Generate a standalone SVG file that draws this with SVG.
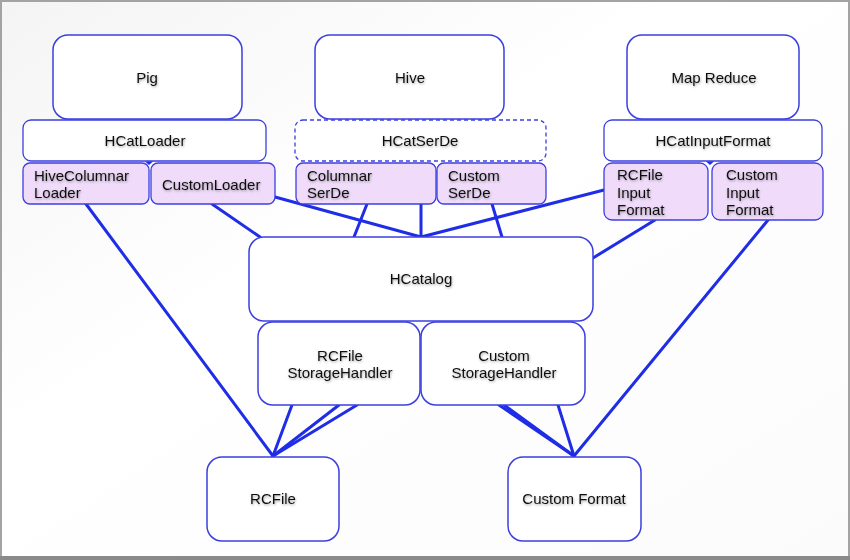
<svg xmlns="http://www.w3.org/2000/svg" width="850" height="560" viewBox="0 0 850 560">
<defs>
<linearGradient id="bg" x1="0" y1="0" x2="1" y2="1">
<stop offset="0" stop-color="#f4f4f4"/>
<stop offset="0.4" stop-color="#ffffff"/>
<stop offset="1" stop-color="#fbfbfb"/>
</linearGradient>
<filter id="ts" x="-10%" y="-30%" width="120%" height="160%">
<feDropShadow dx="0.6" dy="1.2" stdDeviation="0.8" flood-color="#000" flood-opacity="0.35"/>
</filter>
</defs>
<style>
.big{fill:#fff;stroke:#3b3fe0;stroke-width:1.5}
.bar{fill:#fff;stroke:#3b3fe0;stroke-width:1.3}
.dash{fill:#fff;stroke:#3b3fe0;stroke-width:1.3;stroke-dasharray:4 3}
.sub{fill:#f0dcfa;stroke:#3b3fe0;stroke-width:1.3}
text{font-family:"Liberation Sans",Arial,Helvetica,sans-serif;font-size:15px;fill:#111;filter:url(#ts)}
.c{text-anchor:middle}
.conn line{stroke:#1f2de6;stroke-width:3;stroke-linecap:round}
.tip{fill:#1f2de6}
</style>
<rect x="0" y="0" width="850" height="560" fill="url(#bg)"/>
<rect x="1" y="1" width="848" height="556" fill="none" stroke="#a3a3a3" stroke-width="2"/>
<rect x="0" y="556" width="850" height="4" fill="#8a8a8a"/>

<g id="connectors" class="conn">
<line x1="86" y1="204" x2="273" y2="456"/>
<line x1="212" y1="204" x2="260" y2="237"/>
<line x1="275" y1="197" x2="421" y2="237"/>
<line x1="367" y1="204" x2="354" y2="237"/>
<line x1="421" y1="204" x2="421" y2="237"/>
<line x1="492" y1="204" x2="502" y2="237"/>
<line x1="604" y1="190" x2="421" y2="237"/>
<line x1="655" y1="220" x2="593" y2="258"/>
<line x1="768" y1="220" x2="574" y2="456"/>
<line x1="292" y1="405" x2="273" y2="456"/>
<line x1="339" y1="405" x2="273" y2="456"/>
<line x1="357" y1="405" x2="273" y2="456"/>
<line x1="499" y1="405" x2="574" y2="456"/>
<line x1="504" y1="405" x2="574" y2="456"/>
<line x1="558" y1="405" x2="574" y2="456"/>
</g>

<g id="pig"><rect class="big" x="53" y="35" width="189" height="84" rx="15"/><text class="c" x="147" y="83">Pig</text></g>
<g id="hive"><rect class="big" x="315" y="35" width="189" height="84" rx="15"/><text class="c" x="410" y="83">Hive</text></g>
<g id="mapreduce"><rect class="big" x="627" y="35" width="172" height="84" rx="15"/><text class="c" x="714" y="83">Map Reduce</text></g>

<g id="hcatloader"><rect class="bar" x="23" y="120" width="243" height="41" rx="8"/><text class="c" x="145" y="146">HCatLoader</text></g>
<g id="hcatserde"><rect class="dash" x="295" y="120" width="251" height="41" rx="8"/><text class="c" x="420" y="146">HCatSerDe</text></g>
<g id="hcatinputformat"><rect class="bar" x="604" y="120" width="218" height="41" rx="8"/><text class="c" x="713" y="146">HCatInputFormat</text></g>

<g id="hivecolumnarloader"><rect class="sub" x="23" y="163" width="126" height="41" rx="7"/><text x="34" y="181">HiveColumnar</text><text x="34" y="198">Loader</text></g>
<g id="customloader"><rect class="sub" x="151" y="163" width="124" height="41" rx="7"/><text x="162" y="190">CustomLoader</text></g>
<g id="columnarserde"><rect class="sub" x="296" y="163" width="140" height="41" rx="7"/><text x="307" y="181">Columnar</text><text x="307" y="198">SerDe</text></g>
<g id="customserde"><rect class="sub" x="437" y="163" width="109" height="41" rx="7"/><text x="448" y="181">Custom</text><text x="448" y="198">SerDe</text></g>
<g id="rcfileinputformat"><rect class="sub" x="604" y="163" width="104" height="57" rx="8"/><text x="617" y="180">RCFile</text><text x="617" y="198">Input</text><text x="617" y="215">Format</text></g>
<g id="custominputformat"><rect class="sub" x="712" y="163" width="111" height="57" rx="8"/><text x="726" y="180">Custom</text><text x="726" y="198">Input</text><text x="726" y="215">Format</text></g>

<g id="tips">
<path class="tip" d="M145 161.5 L153 161.5 L149 165 Z"/>
<path class="tip" d="M706 161.5 L714 161.5 L710 165 Z"/>
</g>

<g id="hcatalog"><rect class="big" x="249" y="237" width="344" height="84" rx="15"/><text class="c" x="421" y="284">HCatalog</text></g>
<g id="rcfilestoragehandler"><rect class="big" x="258" y="322" width="162" height="83" rx="15"/><text class="c" x="340" y="361">RCFile</text><text class="c" x="340" y="378">StorageHandler</text></g>
<g id="customstoragehandler"><rect class="big" x="421" y="322" width="164" height="83" rx="15"/><text class="c" x="504" y="361">Custom</text><text class="c" x="504" y="378">StorageHandler</text></g>

<g id="rcfile"><rect class="big" x="207" y="457" width="132" height="84" rx="15"/><text class="c" x="273" y="504">RCFile</text></g>
<g id="customformat"><rect class="big" x="508" y="457" width="133" height="84" rx="15"/><text class="c" x="574" y="504">Custom Format</text></g>
</svg>
